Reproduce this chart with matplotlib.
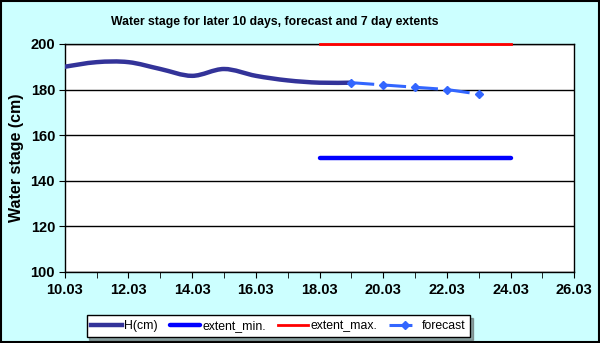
import numpy as np
import matplotlib
matplotlib.use("Agg")
import matplotlib.pyplot as plt
from matplotlib.path import Path
from matplotlib.patches import PathPatch, Rectangle
from matplotlib.ticker import MultipleLocator, FuncFormatter

# Data (day of March)
h_days = [10, 11, 12, 13, 14, 15, 16, 17, 18, 19]
h_vals = [190, 192, 192, 189, 186, 189, 186, 184, 183, 183]
fc_days = [19, 20, 21, 22, 23]
fc_vals = [183, 182, 181, 180, 178]
ext_days = [18, 24]
ext_min = [150, 150]
ext_max = [200, 200]

plt.rcParams['font.family'] = ['Liberation Sans', 'DejaVu Sans']
plt.rcParams['lines.scale_dashes'] = False

BG = '#ccffff'
fig = plt.figure(figsize=(6, 3.43), dpi=100, facecolor=BG)
ax = fig.add_axes([0.108, 0.207, 0.849, 0.665])
ax.set_facecolor('white')


def smooth_path(xs, ys):
    # Excel-like smoothed line as cubic Bezier segments
    pts = np.column_stack([xs, ys]).astype(float)
    verts = [pts[0]]
    codes = [Path.MOVETO]
    n = len(pts)
    for i in range(n - 1):
        p0 = pts[max(i - 1, 0)]
        p1 = pts[i]
        p2 = pts[i + 1]
        p3 = pts[min(i + 2, n - 1)]
        c1 = p1 + (p2 - p0) / 6.0
        c2 = p2 - (p3 - p1) / 6.0
        verts += [c1, c2, p2]
        codes += [Path.CURVE4] * 3
    return Path(verts, codes)


h_color = '#333399'
ax.add_patch(PathPatch(smooth_path(h_days, h_vals), fill=False,
                       edgecolor=h_color, lw=3.2, capstyle='round', zorder=4))
ax.plot([], [], color=h_color, lw=3.2, label='H(cm)')

ax.plot(ext_days, ext_min, color='#0000ff', lw=3.2, solid_capstyle='round',
        label='extent_min.', zorder=3)
ax.plot(ext_days, ext_max, color='#ff0000', lw=2, label='extent_max.',
        zorder=3, clip_on=False)
ax.plot(fc_days, fc_vals, color='#3366ff', lw=2.2, dashes=(16.5, 6.5),
        marker='D', markersize=4.5, label='forecast', zorder=5)

ax.set_xlim(10, 26)
ax.set_ylim(100, 200)
ax.xaxis.set_major_locator(MultipleLocator(2))
ax.xaxis.set_minor_locator(MultipleLocator(1))
ax.xaxis.set_major_formatter(FuncFormatter(lambda v, p: f"{int(v):02d}.03"))
ax.yaxis.set_major_locator(MultipleLocator(20))
ax.grid(axis='y', color='black', lw=1)
ax.set_axisbelow(True)
for s in ax.spines.values():
    s.set_color('black')
    s.set_linewidth(1)

ax.tick_params(axis='x', which='both', direction='out', length=4,
               color='black', labelsize=10.5, pad=4)
ax.tick_params(axis='y', which='major', direction='out', length=4,
               color='black', labelsize=10.5, pad=3)
for lab in ax.get_xticklabels() + ax.get_yticklabels():
    lab.set_fontweight('bold')

ax.set_ylabel('Water stage (cm)', fontsize=11.5, fontweight='bold', labelpad=5)
fig.text(0.458, 0.935, 'Water stage for later 10 days, forecast and 7 day extents',
         ha='center', va='center', fontsize=8.8, fontweight='bold')

leg = fig.legend(loc='center', bbox_to_anchor=(0.464, 0.05), ncol=4,
                 fontsize=8.8, frameon=True, fancybox=False, shadow=True,
                 handlelength=2.5, handletextpad=0.15, columnspacing=1.0,
                 borderpad=0.4, edgecolor='black')
leg.get_frame().set_linewidth(1)

fig.add_artist(Rectangle((0.001, 0.002), 0.997, 0.995, transform=fig.transFigure,
                         fill=False, edgecolor='black', lw=1.5))

fig.savefig('out.png', dpi=100, facecolor=BG)
